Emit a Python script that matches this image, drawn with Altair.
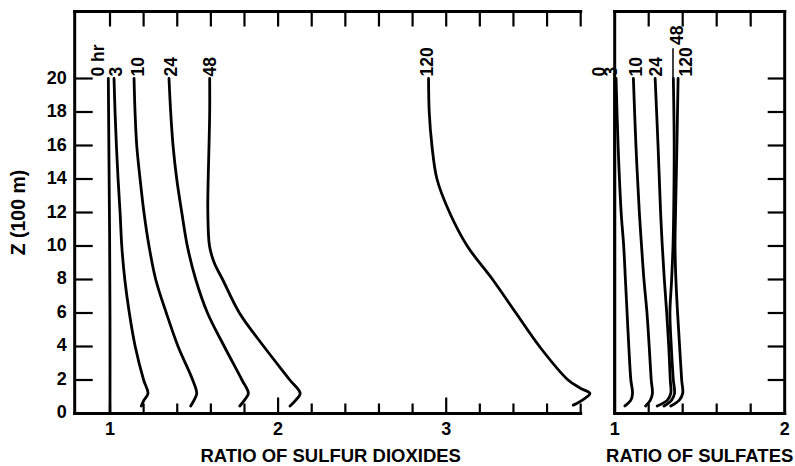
import altair as alt
import pandas as pd

FONT = "Liberation Sans"

# ---------------- data ----------------
HOURS_SO2 = ["0 hr", "3", "10", "24", "48", "120"]
HOURS_SUL = ["0", "3", "10", "24", "48", "120"]

# Ratio of sulfur dioxides: z (100 m) and ratio, from z=20 down to the hook at the ground
SO2_Z_0 = [20, 15, 10, 5, 0]
SO2_X_0 = [0.99, 0.994, 0.998, 1.0, 1.0]
SO2_Z_3 = [20, 18, 16, 14, 12, 10, 8, 6, 4, 2, 1.2, 0.8, 0.45]
SO2_X_3 = [1.024, 1.03, 1.038, 1.048, 1.06, 1.07, 1.088, 1.115, 1.15, 1.20, 1.226, 1.202, 1.186]
SO2_Z_10 = [20, 18, 16, 14, 12, 10, 8, 6, 4, 2, 1.2, 0.8, 0.45]
SO2_X_10 = [1.143, 1.149, 1.159, 1.179, 1.202, 1.232, 1.272, 1.335, 1.405, 1.492, 1.516, 1.50, 1.48]
SO2_Z_24 = [20, 18, 16, 14, 12, 10, 8, 6, 4, 2, 1.2, 0.8, 0.45]
SO2_X_24 = [1.351, 1.361, 1.375, 1.397, 1.427, 1.46, 1.51, 1.58, 1.68, 1.785, 1.823, 1.80, 1.772]
SO2_Z_48 = [20, 18, 16, 14, 12, 10, 9, 8, 6, 4, 2, 1.2, 0.8, 0.45]
SO2_X_48 = [1.593, 1.593, 1.589, 1.584, 1.582, 1.592, 1.62, 1.67, 1.77, 1.915, 2.07, 2.131, 2.105, 2.071]
SO2_Z_120 = [20, 18, 16, 14, 12, 10, 8, 6, 4, 2, 1.5, 1.2, 0.8, 0.5]
SO2_X_120 = [2.895, 2.899, 2.915, 2.945, 3.02, 3.125, 3.276, 3.415, 3.555, 3.725, 3.80, 3.855, 3.81, 3.756]

# Ratio of sulfates
SUL_Z_0 = [20, 10, 0]
SUL_X_0 = [1.0, 1.0, 1.0]
SUL_Z = [20, 16, 12, 10, 8, 6, 4, 2, 1.2, 0.8, 0.45]
SUL_X_3 = [1.008, 1.02, 1.038, 1.053, 1.063, 1.073, 1.083, 1.095, 1.105, 1.095, 1.06]
SUL_X_10 = [1.11, 1.125, 1.145, 1.158, 1.172, 1.19, 1.203, 1.215, 1.222, 1.21, 1.182]
SUL_X_24 = [1.238, 1.255, 1.27, 1.28, 1.292, 1.306, 1.318, 1.327, 1.33, 1.31, 1.25]
SUL_X_48 = [1.345, 1.35, 1.347, 1.343, 1.335, 1.325, 1.333, 1.345, 1.352, 1.335, 1.29]
SUL_X_120 = [1.373, 1.366, 1.358, 1.355, 1.36, 1.37, 1.382, 1.394, 1.40, 1.38, 1.33]

# curve labels (ratio where the label sits, height where it starts)
SO2_LABEL_X = [0.9375, 1.039, 1.173, 1.369, 1.601, 2.89]
SO2_LABEL_Z = [20.12, 20.12, 20.12, 20.12, 20.12, 20.12]
SUL_LABEL_X = [0.914, 0.982, 1.13, 1.251, 1.373, 1.426]
SUL_LABEL_Z = [20.12, 20.12, 20.12, 20.12, 22.0, 20.12]
SUL_LEADER_X = [1.343]
SUL_LEADER_Z = [20.05]
SUL_LEADER_Z2 = [21.8]

# axes
SO2_DOMAIN = [0.79, 3.8]
SUL_DOMAIN = [1.0, 2.0]
Z_DOMAIN = [0, 24]
SO2_XLABELS = [1, 2, 3]
SUL_XLABELS = [1, 2]
SO2_TICKS = [1.0, 1.2, 1.4, 1.6, 1.8, 2.0, 2.2, 2.4, 2.6, 2.8, 3.0, 3.2, 3.4, 3.6, 3.8]
SO2_MAJOR = [2.0, 3.0]
SO2_MINOR = [1.0, 1.2, 1.4, 1.6, 1.8, 2.2, 2.4, 2.6, 2.8, 3.2, 3.4, 3.6, 3.8]
SUL_TICKS = [1.2, 1.4, 1.6, 1.8]
Z_TICKS = [2, 4, 6, 8, 10, 12, 14, 16, 18, 20]
Z_LABELS = [0, 2, 4, 6, 8, 10, 12, 14, 16, 18, 20]
SO2_TITLE = "RATIO OF SULFUR DIOXIDES"
SUL_TITLE = "RATIO OF SULFATES"
Z_TITLE = "Z (100 m)"

W1, W2, H = 506, 170, 402


def curve_frame(names, zs, xs):
    rows = []
    for name, zz, xx in zip(names, zs, xs):
        for i, (z, x) in enumerate(zip(zz, xx)):
            rows.append({"hour": name, "z": z, "x": x, "seq": i})
    return pd.DataFrame(rows)


so2 = curve_frame(
    HOURS_SO2,
    [SO2_Z_0, SO2_Z_3, SO2_Z_10, SO2_Z_24, SO2_Z_48, SO2_Z_120],
    [SO2_X_0, SO2_X_3, SO2_X_10, SO2_X_24, SO2_X_48, SO2_X_120],
)
sul = curve_frame(
    HOURS_SUL,
    [SUL_Z_0, SUL_Z, SUL_Z, SUL_Z, SUL_Z, SUL_Z],
    [SUL_X_0, SUL_X_3, SUL_X_10, SUL_X_24, SUL_X_48, SUL_X_120],
)
so2_lab = pd.DataFrame({"label": HOURS_SO2, "x": SO2_LABEL_X, "z": SO2_LABEL_Z})
sul_lab = pd.DataFrame({"label": HOURS_SUL, "x": SUL_LABEL_X, "z": SUL_LABEL_Z})
sul_leader = pd.DataFrame({"x": SUL_LEADER_X, "z": SUL_LEADER_Z, "z2": SUL_LEADER_Z2})
one = pd.DataFrame({"k": [0]})

ys = alt.Scale(domain=Z_DOMAIN, nice=False, zero=False)

LINE = dict(color="black", strokeWidth=2.8, interpolate="catmull-rom",
            strokeCap="round", strokeJoin="round")
BORDER = dict(color="black", strokeWidth=3, strokeCap="square")
TICK = dict(color="black", strokeWidth=2.2)
LABEL = dict(angle=270, align="left", baseline="middle", font=FONT,
             fontSize=17.5, fontWeight="bold", color="black")
TXT = dict(font=FONT, fontWeight="bold", color="black")


def xticklabels(values, scale):
    df = pd.DataFrame({"t": values, "s": [str(v) for v in values]})
    return alt.Chart(df).mark_text(fontSize=18, align="center", baseline="alphabetic", **TXT).encode(
        x=alt.X("t:Q", scale=scale, axis=None), y=alt.value(H + 22), text="s:N")


def title_text(text, xpix, ypix, **kw):
    return alt.Chart(pd.DataFrame({"s": [text]})).mark_text(**TXT, **kw).encode(
        x=alt.value(xpix), y=alt.value(ypix), text="s:N")


# ---------------- left panel ----------------
xs1 = alt.Scale(domain=SO2_DOMAIN, nice=False, zero=False)
curves1 = alt.Chart(so2).mark_line(**LINE).encode(
    x=alt.X("x:Q", scale=xs1, axis=None),
    y=alt.Y("z:Q", scale=ys, axis=None),
    detail="hour:N",
    order="seq:Q",
)
labels1 = alt.Chart(so2_lab).mark_text(**LABEL).encode(
    x=alt.X("x:Q", scale=xs1, axis=None),
    y=alt.Y("z:Q", scale=ys, axis=None),
    text="label:N",
)
lb1 = alt.Chart(one).mark_rule(**BORDER).encode(x=alt.value(0), y=alt.value(0), y2=alt.value(H))
tb1 = alt.Chart(one).mark_rule(**BORDER).encode(y=alt.value(0), x=alt.value(0), x2=alt.value(W1))
bb1 = alt.Chart(one).mark_rule(**BORDER).encode(y=alt.value(H), x=alt.value(0), x2=alt.value(W1))
top_t1 = alt.Chart(pd.DataFrame({"t": SO2_TICKS})).mark_rule(**TICK).encode(
    x=alt.X("t:Q", scale=xs1, axis=None), y=alt.value(0), y2=alt.value(15))
bot_minor1 = alt.Chart(pd.DataFrame({"t": SO2_MINOR})).mark_rule(**TICK).encode(
    x=alt.X("t:Q", scale=xs1, axis=None), y=alt.value(H), y2=alt.value(H - 10))
bot_major1 = alt.Chart(pd.DataFrame({"t": SO2_MAJOR})).mark_rule(**TICK).encode(
    x=alt.X("t:Q", scale=xs1, axis=None), y=alt.value(H), y2=alt.value(H - 16))
left_t1 = alt.Chart(pd.DataFrame({"t": Z_TICKS})).mark_rule(**TICK).encode(
    y=alt.Y("t:Q", scale=ys, axis=None), x=alt.value(0), x2=alt.value(18))
ylab_df = pd.DataFrame({"t": Z_LABELS, "s": [str(v) for v in Z_LABELS]})
ylabels1 = alt.Chart(ylab_df).mark_text(fontSize=18, align="right", baseline="middle", **TXT).encode(
    y=alt.Y("t:Q", scale=ys, axis=None), x=alt.value(-8), text="s:N")
xlabels1 = xticklabels(SO2_XLABELS, xs1)
xtitle1 = title_text(SO2_TITLE, W1 / 2 + 3, H + 49, fontSize=18.5, align="center",
                     baseline="alphabetic")
ytitle1 = title_text(Z_TITLE, -56, H / 2, fontSize=19.5, align="center",
                     baseline="middle", angle=270)

left = alt.layer(curves1, labels1, lb1, tb1, bb1, top_t1, bot_minor1, bot_major1,
                 left_t1, ylabels1, xlabels1, xtitle1, ytitle1).properties(width=W1, height=H)

# ---------------- right panel ----------------
xs2 = alt.Scale(domain=SUL_DOMAIN, nice=False, zero=False)
curves2 = alt.Chart(sul).mark_line(**LINE).encode(
    x=alt.X("x:Q", scale=xs2, axis=None),
    y=alt.Y("z:Q", scale=ys, axis=None),
    detail="hour:N",
    order="seq:Q",
)
labels2 = alt.Chart(sul_lab).mark_text(**LABEL).encode(
    x=alt.X("x:Q", scale=xs2, axis=None),
    y=alt.Y("z:Q", scale=ys, axis=None),
    text="label:N",
)
leader2 = alt.Chart(sul_leader).mark_rule(color="black", strokeWidth=1.5).encode(
    x=alt.X("x:Q", scale=xs2, axis=None),
    y=alt.Y("z:Q", scale=ys, axis=None),
    y2="z2:Q",
)
lb2 = alt.Chart(one).mark_rule(**BORDER).encode(x=alt.value(0), y=alt.value(0), y2=alt.value(H))
rb2 = alt.Chart(one).mark_rule(**BORDER).encode(x=alt.value(W2), y=alt.value(0), y2=alt.value(H))
tb2 = alt.Chart(one).mark_rule(**BORDER).encode(y=alt.value(0), x=alt.value(0), x2=alt.value(W2))
bb2 = alt.Chart(one).mark_rule(**BORDER).encode(y=alt.value(H), x=alt.value(0), x2=alt.value(W2))
top_t2 = alt.Chart(pd.DataFrame({"t": SUL_TICKS})).mark_rule(**TICK).encode(
    x=alt.X("t:Q", scale=xs2, axis=None), y=alt.value(0), y2=alt.value(15))
bot_t2 = alt.Chart(pd.DataFrame({"t": SUL_TICKS})).mark_rule(**TICK).encode(
    x=alt.X("t:Q", scale=xs2, axis=None), y=alt.value(H), y2=alt.value(H - 10))
right_t2 = alt.Chart(pd.DataFrame({"t": Z_TICKS})).mark_rule(**TICK).encode(
    y=alt.Y("t:Q", scale=ys, axis=None), x=alt.value(W2), x2=alt.value(W2 - 17))
xlabels2 = xticklabels(SUL_XLABELS, xs2)
xtitle2 = title_text(SUL_TITLE, W2 / 2, H + 49, fontSize=18.5, align="center",
                     baseline="alphabetic")

right = alt.layer(curves2, labels2, leader2, lb2, rb2, tb2, bb2, top_t2, bot_t2,
                  right_t2, xlabels2, xtitle2).properties(width=W2, height=H)

chart = alt.hconcat(left, right, spacing=34, bounds="flush").properties(
    padding={"left": 8.7, "top": 8.5, "right": 1, "bottom": 0},
    background="white",
).configure_view(stroke="transparent", strokeWidth=0)

chart.save("out.html", embed_options={"renderer": "svg", "actions": False})
